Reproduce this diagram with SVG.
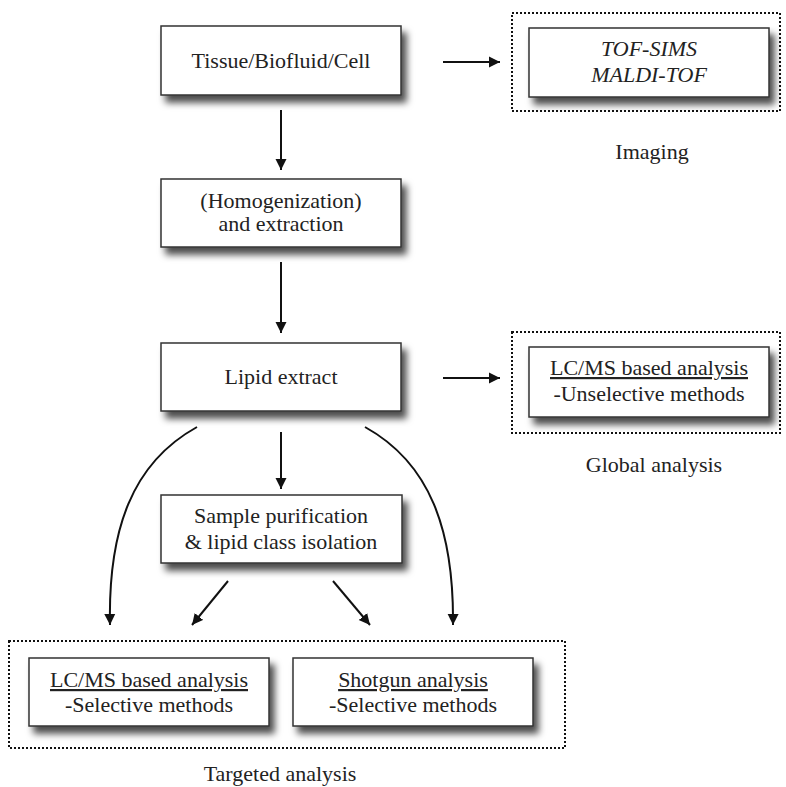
<svg xmlns="http://www.w3.org/2000/svg" width="786" height="787" viewBox="0 0 786 787" font-family="'Liberation Serif', 'DejaVu Serif', serif">
<defs>
<filter id="sh" x="-10%" y="-20%" width="130%" height="150%">
<feDropShadow dx="5" dy="7" stdDeviation="3.5" flood-color="#000" flood-opacity="0.7"/>
</filter>
<marker id="ah" markerUnits="userSpaceOnUse" markerWidth="12" markerHeight="12" refX="11" refY="6" orient="auto">
<path d="M0,0.5 L11,6 L0,11.5 z" fill="#111"/>
</marker>
</defs>
<style>
.box{fill:#fff;stroke:#333;stroke-width:1.5;filter:url(#sh)}
.grp{fill:none;stroke:#111;stroke-width:2;stroke-dasharray:2 2}
.t{font-size:22px;fill:#222;text-anchor:middle}
.i{font-style:italic}
.u{text-decoration:underline}
.c{fill:none;stroke:#111;stroke-width:2;marker-end:url(#ah)}
</style>
<rect width="786" height="787" fill="#fff"/>

<g id="imaging-group">
<rect class="grp" x="512" y="13" width="268" height="98"/>
<text class="t" x="652" y="159">Imaging</text>
</g>
<g id="global-group">
<rect class="grp" x="512" y="332" width="268" height="101"/>
<text class="t" x="654" y="472">Global analysis</text>
</g>
<g id="targeted-group">
<rect class="grp" x="9" y="641" width="556" height="107"/>
<text class="t" x="280" y="781">Targeted analysis</text>
</g>

<g id="n-tissue">
<rect class="box" x="161" y="26" width="240" height="69"/>
<text class="t" x="281" y="68">Tissue/Biofluid/Cell</text>
</g>
<g id="n-imaging">
<rect class="box" x="529" y="28" width="240" height="69"/>
<text class="t i" x="649" y="56">TOF-SIMS</text>
<text class="t i" x="649" y="82">MALDI-TOF</text>
</g>
<g id="n-homog">
<rect class="box" x="161" y="179" width="240" height="68"/>
<text class="t" x="281" y="208">(Homogenization)</text>
<text class="t" x="281" y="231">and extraction</text>
</g>
<g id="n-lipid">
<rect class="box" x="161" y="343" width="240" height="68"/>
<text class="t" x="281" y="384">Lipid extract</text>
</g>
<g id="n-global">
<rect class="box" x="529" y="347" width="240" height="70"/>
<text class="t u" x="649" y="375">LC/MS based analysis</text>
<text class="t" x="649" y="401">-Unselective methods</text>
</g>
<g id="n-purif">
<rect class="box" x="161" y="495" width="241" height="68"/>
<text class="t" x="281" y="523">Sample purification</text>
<text class="t" x="281" y="549">&amp; lipid class isolation</text>
</g>
<g id="n-lcms-sel">
<rect class="box" x="29" y="658" width="240" height="68"/>
<text class="t u" x="149" y="687">LC/MS based analysis</text>
<text class="t" x="149" y="712">-Selective methods</text>
</g>
<g id="n-shotgun">
<rect class="box" x="293" y="658" width="240" height="68"/>
<text class="t u" x="413" y="687">Shotgun analysis</text>
<text class="t" x="413" y="712">-Selective methods</text>
</g>

<g id="connectors">
<path class="c" d="M443,62 H500"/>
<path class="c" d="M281,110 V170"/>
<path class="c" d="M281,262 V333"/>
<path class="c" d="M443,378 H500"/>
<path class="c" d="M281,432 V489"/>
<path class="c" d="M228,581 L192,625"/>
<path class="c" d="M333,581 L370,625"/>
<path class="c" d="M197,427 C132,463 108,530 110,625"/>
<path class="c" d="M365,427 C430,463 454,530 453,625"/>
</g>
</svg>
